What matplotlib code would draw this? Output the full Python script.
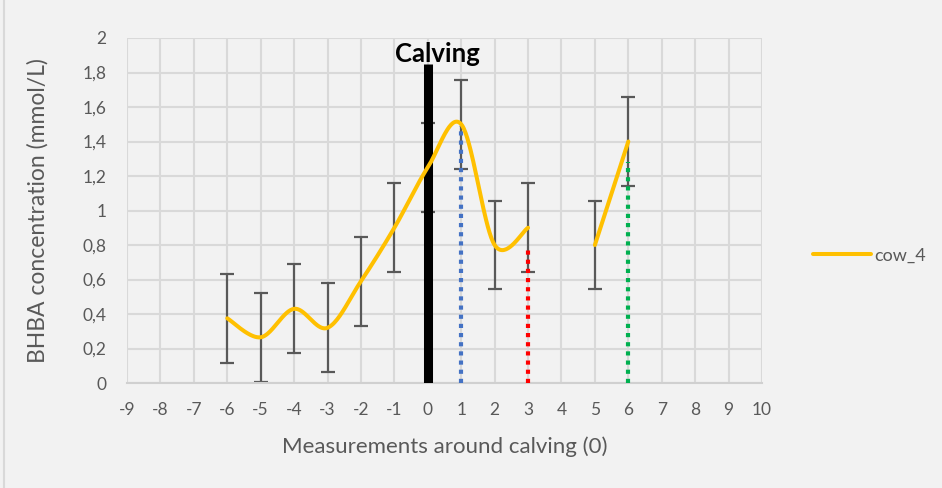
import matplotlib
matplotlib.use("Agg")
import matplotlib.pyplot as plt
import numpy as np
from matplotlib.ticker import FuncFormatter

# cow_4 BHBA measurements around calving (gap at day 4)
seg1_x = [-6, -5, -4, -3, -2, -1, 0, 1, 2, 3]
seg1_y = [0.375, 0.265, 0.43, 0.32, 0.59, 0.90, 1.25, 1.50, 0.80, 0.90]
seg2_x = [5, 6]
seg2_y = [0.80, 1.40]
err = 0.257

# markers: calving, and dotted events
calving_top = 1.85
events_x = [1, 3, 6]
events_top = [1.49, 0.79, 1.28]
events_col = ["#4472c4", "#ff0000", "#00b050"]

BG = "#f2f2f2"
GRAY = "#595959"


def smooth(xs, ys, n=40):
    # Catmull-Rom style curve, like Excel's smoothed line
    xs = np.asarray(xs, float)
    ys = np.asarray(ys, float)
    px = np.concatenate([[xs[0]], xs, [xs[-1]]])
    py = np.concatenate([[ys[0]], ys, [ys[-1]]])
    ox, oy = [], []
    for i in range(1, len(px) - 2):
        p0, p1, p2, p3 = [np.array([px[j], py[j]]) for j in range(i - 1, i + 3)]
        c1 = p1 + (p2 - p0) / 6
        c2 = p2 - (p3 - p1) / 6
        t = np.linspace(0, 1, n)[:, None]
        b = (1 - t) ** 3 * p1 + 3 * (1 - t) ** 2 * t * c1 + 3 * (1 - t) * t ** 2 * c2 + t ** 3 * p2
        ox.extend(b[:, 0])
        oy.extend(b[:, 1])
    return ox, oy


plt.rcParams["font.family"] = ["Lato", "DejaVu Sans"]
plt.rcParams["axes.unicode_minus"] = False
fig = plt.figure(figsize=(9.42, 4.88), dpi=100, facecolor=BG)
ax = fig.add_axes([127 / 942, 1 - 383 / 488, (762 - 127) / 942, (383 - 38) / 488])
ax.set_facecolor(BG)

ax.set_xlim(-9, 10)
ax.set_ylim(0, 2)
ax.set_xticks(range(-9, 11))
ax.set_yticks(np.round(np.arange(0, 2.01, 0.2), 1))
ax.yaxis.set_major_formatter(FuncFormatter(lambda v, p: ("%g" % round(v, 1)).replace(".", ",")))
ax.grid(True, color="#d9d9d9", linewidth=1.5)
ax.set_axisbelow(True)
for s in ["top", "right", "left"]:
    ax.spines[s].set_visible(False)
ax.spines["bottom"].set_color("#d0d0d0")
ax.spines["bottom"].set_linewidth(1.5)
ax.tick_params(axis="x", length=0, labelsize=12.5, labelcolor=GRAY, pad=14)
ax.tick_params(axis="y", length=0, labelsize=12.5, labelcolor=GRAY, pad=15)

# error bars
ax.errorbar(seg1_x + seg2_x, seg1_y + seg2_y, yerr=err, fmt="none",
            ecolor=GRAY, elinewidth=1.6, capsize=5, capthick=1.6, zorder=2)

# vertical markers
ax.vlines(0, 0, calving_top, color="black", linewidth=6.5, zorder=3)
for x, top, c in zip(events_x, events_top, events_col):
    ax.plot([x, x], [0, top], color=c, linewidth=3, linestyle=(0, (1, 1.2)), zorder=3)

sx, sy = smooth(seg1_x, seg1_y)
ax.plot(sx, sy, color="#ffc000", linewidth=2.9, solid_capstyle="round", zorder=4, label="cow_4")
sx, sy = smooth(seg2_x, seg2_y)
ax.plot(sx, sy, color="#ffc000", linewidth=2.9, solid_capstyle="round", zorder=4)

ax.text(0.3, 1.91, "Calving", ha="center", va="center", fontsize=18.5, fontweight="bold", color="black")

ax.set_xlabel("Measurements around calving (0)", fontsize=16, color=GRAY, labelpad=13)
ax.set_ylabel("BHBA concentration (mmol/L)", fontsize=16.5, color=GRAY, labelpad=24)

ax.legend(loc="center left", bbox_to_anchor=(1.055, 0.37), frameon=False, fontsize=13,
          labelcolor=GRAY, handlelength=3.2, handletextpad=0.2)

fig.add_artist(plt.Line2D([4 / 942, 4 / 942], [0, 1], color="#d9d9d9", linewidth=1.5))
fig.savefig("out.png", dpi=100, facecolor=BG)
